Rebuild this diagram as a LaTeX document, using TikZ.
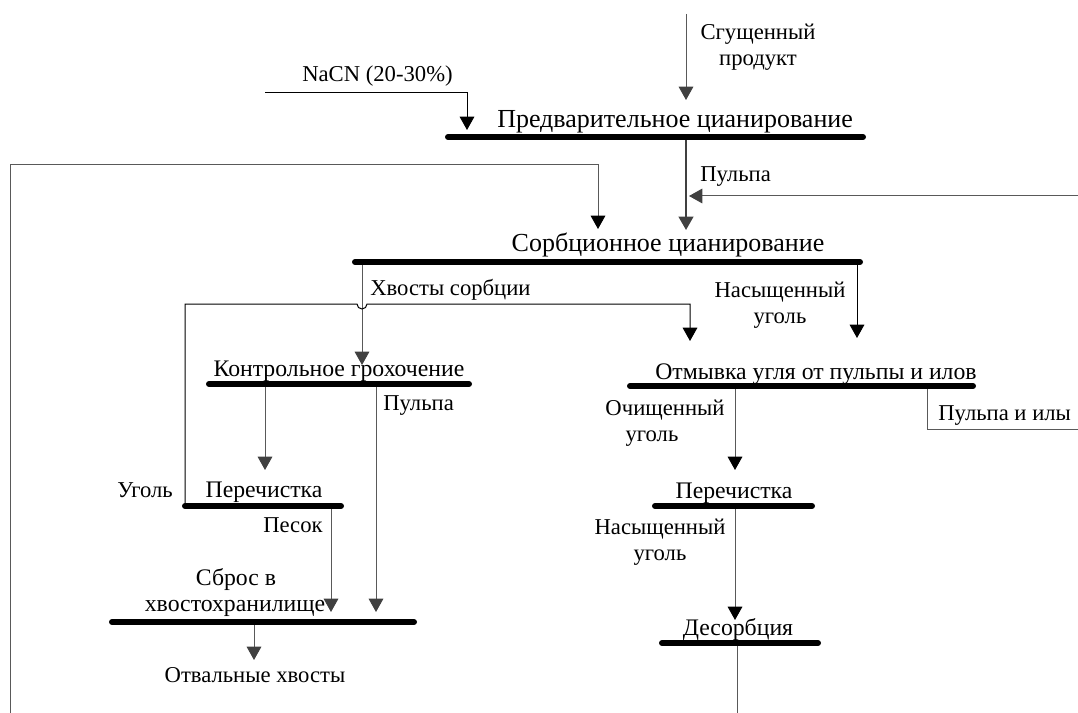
\documentclass[tikz,border=0pt]{standalone}
\usepackage{fontspec}
\setmainfont{Liberation Serif}
\usetikzlibrary{arrows.meta}
\begin{document}
\begin{tikzpicture}[x=0.75pt,y=-0.75pt,
  font=\fontsize{17}{19}\selectfont,
  bar/.style={line width=4.5pt,line cap=round,black},
  flow/.style={line width=0.75pt,black},
  gflow/.style={line width=0.75pt,draw=black!65},
  pflow/.style={line width=1.5pt,draw=black!75},
  btip/.style={-{Triangle[length=10pt,width=11pt,color=black]}},
  gtip/.style={-{Triangle[length=10pt,width=11pt,color=black!75]}},
  lab/.style={inner sep=0pt,anchor=base},
  labw/.style={inner sep=0pt,anchor=base west},
  bigtitle/.style={font=\fontsize{19.5}{22}\selectfont},
  title/.style={font=\fontsize{17.8}{20}\selectfont}]
\useasboundingbox (0,0) rectangle (1078,713);

% process bars: name / y / left x / right x
\foreach \n/\y/\a/\b in {b1/137/448/863, b2/262/355/860, b3/384/209/469,
    b4/386/630/973, b5/506/185/341, b6/506/655/812, b7/622/112/414,
    b8/643/662/818}{
  \coordinate (\n w) at (\a,\y);
  \coordinate (\n e) at (\b,\y);
  \draw[bar] (\n w) -- (\n e);
}

% process titles
\node[labw,bigtitle] (t1) at (497,128) {Предварительное цианирование};
\node[lab,bigtitle] (t2) at (668,252) {Сорбционное цианирование};
\node[lab,title] (t3) at (339,376) {Контрольное грохочение};
\node[lab,title] (t4) at (816,379) {Отмывка угля от пульпы и илов};
\node[lab,title] (t5) at (264,497) {Перечистка};
\node[lab,title] (t6) at (734,498) {Перечистка};
\node[lab,title] (t7a) at (236,585) {Сброс в};
\node[lab,title] (t7b) at (235,611) {хвостохранилище};
\node[lab,title] (t8) at (738,635) {Десорбция};

% stream labels
\node[lab] (s1a) at (758,40) {Сгущенный};
\node[lab] (s1b) at (758,66) {продукт};
\node[labw] (s2) at (302,82) {NaCN (20-30\%)};
\node[labw] (s3) at (700,181) {Пульпа};
\node[labw] (s4) at (370,295) {Хвосты сорбции};
\node[lab] (s5a) at (780,297) {Насыщенный};
\node[lab] (s5b) at (780,323) {уголь};
\node[labw] (s6) at (383,410) {Пульпа};
\node[labw] (s7) at (117,497) {Уголь};
\node[labw] (s8) at (263,532) {Песок};
\node[lab] (s9) at (255,682) {Отвальные хвосты};
\node[lab] (s10a) at (665,415) {Очищенный};
\node[lab] (s10b) at (652,441) {уголь};
\node[labw] (s11) at (938,420) {Пульпа и илы};
\node[lab] (s12a) at (660,534) {Насыщенный};
\node[lab] (s12b) at (660,560) {уголь};

% free ends and corner points
\coordinate (feed) at (686,14);
\coordinate (cyan) at (265,93);
\coordinate (ret) at (1078,196);
\coordinate (loop) at (10,713);
\coordinate (coalup) at (185,304);
\coordinate (slime) at (1078,429);
\coordinate (desout) at (737,713);

% connectors
\draw[gflow,gtip] (feed) -- (686,100);
\draw[flow,btip] (cyan) -- (467,93) -- (467,130);
\draw[pflow,gtip] (686,140) -- (686,230);
\draw[gflow,gtip] (ret) -- (689,196);
\draw[gflow,btip] (loop) -- (10,165) -- (598,165) -- (598,229);
\draw[gflow,gtip] (362,265) -- (362,365);
\draw[flow,btip] (b5w) -- (coalup) -- (357,304) arc[start angle=180,end angle=0,radius=5] -- (690,304) -- (690,341);
\draw[flow,btip] (857,265) -- (857,338);
\draw[gflow,gtip] (265,387) -- (265,470);
\draw[gflow,gtip] (376,387) -- (376,612);
\draw[gflow,gtip] (331,509) -- (331,612);
\draw[gflow,gtip] (254,625) -- (254,660);
\draw[gflow,btip] (735,389) -- (735,470);
\draw[gflow] (927,389) -- (927,429) -- (slime);
\draw[gflow,btip] (735,509) -- (735,620);
\draw[gflow] (737,646) -- (desout);
\end{tikzpicture}
\end{document}
